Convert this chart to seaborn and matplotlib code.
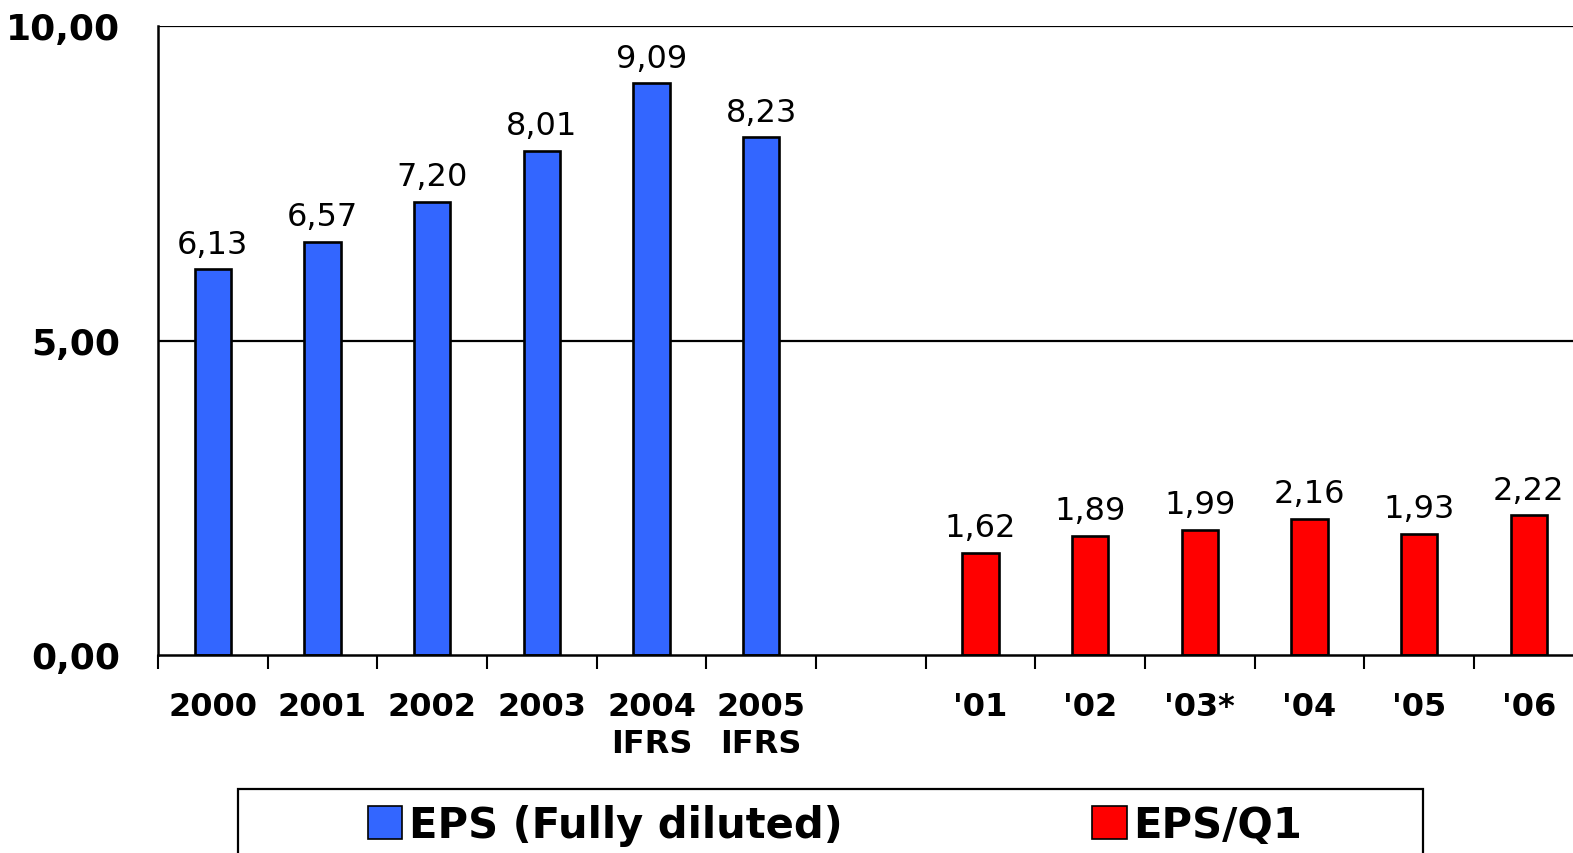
import matplotlib
matplotlib.use("Agg")
import matplotlib.pyplot as plt
from matplotlib.patches import Rectangle, Patch
from matplotlib.ticker import FixedLocator
import seaborn as sns
import pandas as pd
import numpy as np

# Annual EPS and first-quarter EPS
annual_labels = ["2000", "2001", "2002", "2003", "2004\nIFRS", "2005\nIFRS"]
annual_eps = [6.13, 6.57, 7.20, 8.01, 9.09, 8.23]
q1_labels = ["'01", "'02", "'03*", "'04", "'05", "'06"]
q1_eps = [1.62, 1.89, 1.99, 2.16, 1.93, 2.22]
series_names = ["EPS (Fully diluted)", "EPS/Q1"]
y_ticks = [0, 5, 10]

blue = "#3366FF"
red = "#FF0000"

df = pd.DataFrame({
    "period": annual_labels + q1_labels,
    "eps": annual_eps + q1_eps,
    "series": [series_names[0]] * len(annual_labels) + [series_names[1]] * len(q1_labels),
})
spacer = " "
order = annual_labels + [spacer] + q1_labels

sns.set_theme(style="white")
plt.rcParams["font.family"] = ["DejaVu Sans"]
plt.rcParams["text.color"] = "black"
plt.rcParams["xtick.color"] = "black"
plt.rcParams["ytick.color"] = "black"
plt.rcParams["axes.labelcolor"] = "black"

fig = plt.figure(figsize=(15.73, 8.54), dpi=100)
W, H = 1573, 854
left_px, right_px, top_px, bottom_px = 158, 158 + 13 * 109.67, 27, 656
ax = fig.add_axes([left_px / W, 1 - bottom_px / H,
                   (right_px - left_px) / W, (bottom_px - top_px) / H])

sns.barplot(data=df, x="period", y="eps", hue="series", order=order,
            hue_order=series_names, palette=[blue, red], saturation=1,
            dodge=False, width=0.33, edgecolor="black", linewidth=1.9,
            legend=False, ax=ax)

for container in ax.containers:
    vals = [b.get_height() for b in container]
    ax.bar_label(container,
                 labels=[f"{v:.2f}".replace(".", ",") if np.isfinite(v) else "" for v in vals],
                 padding=7, fontsize=23, color="black")

ax.set_xlim(-0.5, 12.5)
ax.set_ylim(0, 10)
ax.set_xlabel("")
ax.set_ylabel("")

# y axis
ax.set_yticks(y_ticks)
ax.set_yticklabels([f"{v:.2f}".replace(".", ",") for v in y_ticks],
                   fontsize=26, fontweight="bold")
ax.tick_params(axis="y", direction="out", length=11, width=1.5, color="black", pad=16)
for y in y_ticks[1:]:
    ax.axhline(y, color="black", linewidth=1.6, zorder=0.5)

# x axis: labels centred under bars, tick marks at category boundaries
ax.set_xticks(range(len(order)))
ax.set_xticklabels(order, fontsize=23, fontweight="bold", linespacing=1.25)
ax.tick_params(axis="x", which="major", length=0, pad=26)
ax.xaxis.set_minor_locator(FixedLocator(np.arange(-0.5, 13, 1.0)))
ax.tick_params(axis="x", which="minor", direction="out", length=10, width=1.5,
               color="black", bottom=True)

for side in ["top", "right"]:
    ax.spines[side].set_visible(False)
for side in ["left", "bottom"]:
    ax.spines[side].set_color("black")
    ax.spines[side].set_linewidth(1.8)

# legend with framed box
fig.patches.append(Rectangle((238 / W, -0.05), (1423 - 238) / W, 0.05 + (854 - 790) / H,
                             transform=fig.transFigure, fill=False,
                             edgecolor="black", linewidth=1.6))
handles = [Patch(facecolor=blue, edgecolor="black", linewidth=1.2),
           Patch(facecolor=red, edgecolor="black", linewidth=1.2)]
fig.legend(handles, series_names, loc="center", ncol=2,
           bbox_to_anchor=(835 / W, 1 - 826 / H), frameon=False,
           prop={"size": 30, "weight": "bold"}, handlelength=0.83,
           handleheight=0.83, handletextpad=0.15, columnspacing=6.0,
           borderpad=0, borderaxespad=0)

fig.savefig("out.png", dpi=100)
